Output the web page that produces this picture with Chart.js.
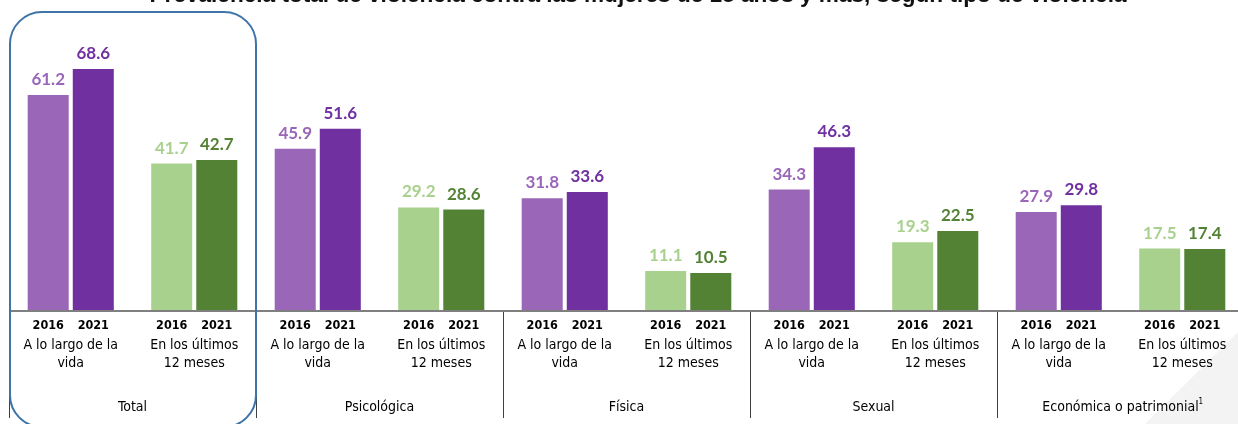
<!DOCTYPE html>
<html>
<head>
<meta charset="utf-8">
<script src="https://cdn.jsdelivr.net/npm/chart.js@4"></script>
<style>
  html, body { margin: 0; padding: 0; background: #fff; overflow: hidden; }
  #wrap { position: relative; width: 1246px; height: 424px; }
</style>
</head>
<body>
<div id="wrap"><canvas id="chart"></canvas></div>
<script>
const TITLE = 'Prevalencia total de violencia contra las mujeres de 15 años y más, según tipo de violencia';
const types = ['Total', 'Psicológica', 'Física', 'Sexual', 'Económica o patrimonial'];
const periods = [['A lo largo de la', 'vida'], ['En los últimos', '12 meses']];
const years = ['2016', '2021'];
// one entry per (type, period): lifetime then last 12 months
const values2016 = [61.2, 41.7, 45.9, 29.2, 31.8, 11.1, 34.3, 19.3, 27.9, 17.5];
const values2021 = [68.6, 42.7, 51.6, 28.6, 33.6, 10.5, 46.3, 22.5, 29.8, 17.4];

const PURPLE_LIGHT = '#9a66b8';
const PURPLE_DARK = '#7030a0';
const GREEN_LIGHT = '#a9d18e';
const GREEN_DARK = '#548235';

const narrow = '"Liberation Sans Narrow", "DejaVu Sans Condensed", "Liberation Sans", sans-serif';

const labels = [];
types.forEach(t => periods.forEach(p => labels.push(t + ' | ' + p.join(' '))));

const colors2016 = labels.map((_, i) => i % 2 === 0 ? PURPLE_LIGHT : GREEN_LIGHT);
const colors2021 = labels.map((_, i) => i % 2 === 0 ? PURPLE_DARK : GREEN_DARK);

const decorPlugin = {
  id: 'decor',
  beforeDraw(chart) {
    const c = chart.ctx;
    c.save();
    c.fillStyle = '#fff';
    c.fillRect(0, 0, chart.width, chart.height);
    // faint slide decoration bottom right
    c.fillStyle = '#f3f3f3';
    c.beginPath();
    c.moveTo(1145, 424); c.lineTo(1238, 332); c.lineTo(1238, 424); c.closePath();
    c.fill();
    c.restore();
  },
  afterDatasetsDraw(chart) {
    const c = chart.ctx;
    const area = chart.chartArea;
    const x = chart.scales.x;
    c.save();

    // value labels
    c.font = 'bold 17px Lato, "Open Sans", sans-serif';
    c.textAlign = 'center';
    c.textBaseline = 'alphabetic';
    chart.data.datasets.forEach((ds, di) => {
      const meta = chart.getDatasetMeta(di);
      meta.data.forEach((bar, i) => {
        c.fillStyle = ds.backgroundColor[i];
        c.fillText(ds.data[i].toFixed(1), bar.x, bar.y - 10);
      });
    });

    // axis line
    c.strokeStyle = '#7f7f7f';
    c.lineWidth = 2;
    c.beginPath();
    c.moveTo(area.left, area.bottom + 1);
    c.lineTo(area.right, area.bottom + 1);
    c.stroke();

    // separators between violence types
    c.strokeStyle = '#404040';
    c.lineWidth = 1;
    for (let k = 0; k < types.length; k++) {
      const sx = k === 0 ? area.left : (x.getPixelForValue(2 * k - 1) + x.getPixelForValue(2 * k)) / 2;
      c.beginPath();
      c.moveTo(Math.round(sx) + 0.5, area.bottom + 2);
      c.lineTo(Math.round(sx) + 0.5, 418);
      c.stroke();
    }

    // year labels under each bar
    c.fillStyle = '#000';
    c.font = 'bold 12.5px ' + narrow;
    c.textBaseline = 'middle';
    chart.data.datasets.forEach((ds, di) => {
      chart.getDatasetMeta(di).data.forEach(bar => {
        c.fillText(years[di], bar.x, 326);
      });
    });

    // period labels
    c.font = '14px ' + narrow;
    c.fillStyle = '#000';
    labels.forEach((_, i) => {
      const px = x.getPixelForValue(i);
      const lines = periods[i % 2];
      lines.forEach((ln, j) => c.fillText(ln, px, 345 + j * 18));
    });

    // type labels
    c.font = '14px ' + narrow;
    c.fillStyle = '#000';
    types.forEach((t, k) => {
      const cx = (x.getPixelForValue(2 * k) + x.getPixelForValue(2 * k + 1)) / 2;
      c.fillText(t, cx, 407);
      if (k === types.length - 1) {
        const w = c.measureText(t).width;
        c.font = '8px ' + narrow;
        c.fillText('1', cx + w / 2 + 2, 402);
        c.font = '14px ' + narrow;
      }
    });

    // rounded box around Total
    const bx0 = area.left + 1;
    const bx1 = (x.getPixelForValue(1) + x.getPixelForValue(2)) / 2;
    const by0 = 12, by1 = 427, r = 32;
    c.strokeStyle = '#3f74a8';
    c.lineWidth = 2;
    c.beginPath();
    c.moveTo(bx0 + r, by0);
    c.lineTo(bx1 - r, by0);
    c.arcTo(bx1, by0, bx1, by0 + r, r);
    c.lineTo(bx1, by1 - r);
    c.arcTo(bx1, by1, bx1 - r, by1, r);
    c.lineTo(bx0 + r, by1);
    c.arcTo(bx0, by1, bx0, by1 - r, r);
    c.lineTo(bx0, by0 + r);
    c.arcTo(bx0, by0, bx0 + r, by0, r);
    c.closePath();
    c.stroke();

    // title, cut at top as in the slide
    c.font = 'bold 22.6px "Liberation Sans", Arial, sans-serif';
    c.fillStyle = '#111';
    c.textBaseline = 'alphabetic';
    c.fillText(TITLE, 638, 2);

    c.restore();
  }
};

new Chart(document.getElementById('chart'), {
  type: 'bar',
  data: {
    labels,
    datasets: [
      { label: years[0], data: values2016, backgroundColor: colors2016, borderWidth: 0 },
      { label: years[1], data: values2021, backgroundColor: colors2021, borderWidth: 0 }
    ]
  },
  options: {
    responsive: true,
    maintainAspectRatio: false,
    animation: false,
    devicePixelRatio: 1,
    layout: { padding: { left: 9, right: 2, top: 29, bottom: 114 } },
    categoryPercentage: 0.73,
    barPercentage: 0.91,
    plugins: { legend: { display: false }, tooltip: { enabled: false } },
    scales: {
      x: { display: false },
      y: { display: false, min: 0, max: 80 }
    }
  },
  plugins: [decorPlugin]
});
</script>
</body>
</html>
